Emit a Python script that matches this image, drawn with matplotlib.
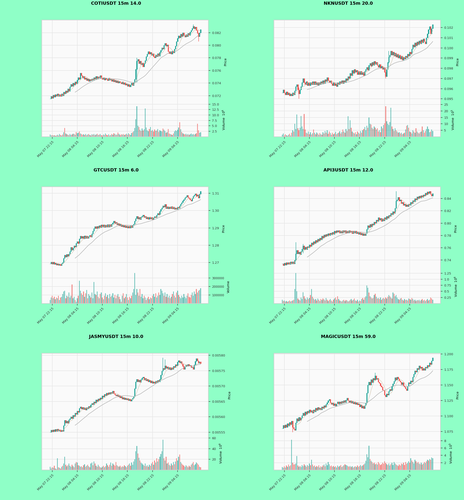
import io
import numpy as np
import pandas as pd
import matplotlib
matplotlib.use('Agg')
import matplotlib.pyplot as plt
from PIL import Image

bg = '#8fffc7'
up_col = '#26a69a'
dn_col = '#ef5350'

date_idx = [2, 26, 50, 74, 98, 122]
date_labels = ['May 07 22:15', 'May 08 04:15', 'May 08 10:15',
               'May 08 16:15', 'May 08 22:15', 'May 09 04:15']

# COTIUSDT
coti_close = [0.0715, 0.0719, 0.0716, 0.0721, 0.0718, 0.0722, 0.0719, 0.0723, 0.0719, 0.0722,
              0.0719, 0.0723, 0.0720, 0.0726, 0.0723, 0.0728, 0.0725, 0.0731, 0.0727, 0.0734,
              0.0738, 0.0735, 0.0740, 0.0737, 0.0742, 0.0739, 0.0745, 0.0749, 0.0746, 0.0756,
              0.0752, 0.0748, 0.0751, 0.0746, 0.0748, 0.0744, 0.0747, 0.0743, 0.0746, 0.0744,
              0.0747, 0.0745, 0.0749, 0.0746, 0.0751, 0.0747, 0.0750, 0.0748, 0.0752, 0.0748,
              0.0746, 0.0749, 0.0745, 0.0748, 0.0746, 0.0744, 0.0748, 0.0745, 0.0747, 0.0743,
              0.0746, 0.0742, 0.0745, 0.0741, 0.0744, 0.0740, 0.0743, 0.0741, 0.0739, 0.0742,
              0.0738, 0.0741, 0.0737, 0.0739, 0.0735, 0.0738, 0.0734, 0.0737, 0.0740, 0.0736,
              0.0741, 0.0746, 0.0762, 0.0775, 0.0778, 0.0771, 0.0775, 0.0769, 0.0772, 0.0766,
              0.0771, 0.0776, 0.0782, 0.0786, 0.0790, 0.0786, 0.0789, 0.0784, 0.0787, 0.0782,
              0.0780, 0.0785, 0.0782, 0.0787, 0.0783, 0.0789, 0.0792, 0.0796, 0.0794, 0.0800,
              0.0803, 0.0799, 0.0801, 0.0790, 0.0787, 0.0790, 0.0786, 0.0791, 0.0788, 0.0794,
              0.0799, 0.0806, 0.0811, 0.0815, 0.0812, 0.0818, 0.0814, 0.0820, 0.0816, 0.0813,
              0.0817, 0.0814, 0.0819, 0.0816, 0.0821, 0.0824, 0.0827, 0.0830, 0.0826, 0.0829,
              0.0824, 0.0819, 0.0814, 0.0820, 0.0825]
coti_vol = [1.0, 0.6, 0.8, 0.5, 0.7, 0.4, 0.6, 0.9, 0.5, 1.2,
            0.8, 0.6, 1.0, 2.0, 4.0, 1.5, 1.1, 0.9, 0.7, 1.3,
            0.8, 1.0, 1.4, 1.2, 0.9, 2.2, 1.6, 1.8, 2.4, 1.5,
            1.2, 0.9, 1.1, 0.8, 1.3, 0.7, 1.0, 1.2, 0.8, 0.6,
            1.1, 0.9, 1.3, 0.7, 1.0, 1.4, 0.8, 0.9, 1.2, 0.7,
            0.6, 1.0, 0.8, 1.5, 0.9, 0.7, 1.1, 0.6, 0.8, 1.3,
            0.9, 1.6, 1.2, 0.8, 1.0, 1.9, 1.3, 0.7, 1.1, 0.9,
            1.2, 0.8, 1.0, 1.4, 0.9, 1.6, 1.1, 0.8, 1.7, 2.0,
            2.5, 4.0, 8.0, 14.0, 5.0, 4.5, 3.2, 2.6, 3.8, 2.9,
            3.4, 13.0, 4.2, 3.0, 2.5, 3.6, 4.5, 2.8, 3.1, 2.4,
            3.3, 2.7, 2.9, 3.5, 2.2, 3.0, 2.6, 2.4, 3.8, 3.2,
            2.6, 1.8, 2.0, 3.5, 1.5, 1.2, 1.0, 0.8, 1.5, 2.4,
            3.0, 2.6, 3.2, 4.2, 6.7, 3.4, 2.2, 1.6, 1.2, 1.0,
            1.4, 0.9, 1.2, 0.8, 1.1, 1.5, 1.0, 1.3, 0.9, 1.2,
            1.6, 6.0, 3.0, 1.8, 2.0]
coti_wicks = {83: (0.0780, 0.0741), 137: (0.0833, 0.0826), 142: (0.0820, 0.0806)}
coti_pticks = [0.072, 0.074, 0.076, 0.078, 0.080, 0.082]
coti_vticks = [2.5, 5.0, 7.5, 10.0, 12.5, 15.0]

# NKNUSDT
nkn_close = [0.0956, 0.0959, 0.0956, 0.0954, 0.0957, 0.0954, 0.0956, 0.0953, 0.0955, 0.0953,
             0.0956, 0.0954, 0.0958, 0.0962, 0.0964, 0.0959, 0.0955, 0.0959, 0.0962, 0.0966,
             0.0970, 0.0966, 0.0964, 0.0967, 0.0963, 0.0966, 0.0963, 0.0966, 0.0964, 0.0967,
             0.0964, 0.0967, 0.0964, 0.0966, 0.0963, 0.0966, 0.0964, 0.0967, 0.0965, 0.0968,
             0.0965, 0.0969, 0.0967, 0.0971, 0.0968, 0.0966, 0.0968, 0.0965, 0.0963, 0.0966,
             0.0963, 0.0965, 0.0962, 0.0966, 0.0964, 0.0967, 0.0965, 0.0968, 0.0965, 0.0968,
             0.0966, 0.0970, 0.0968, 0.0972, 0.0970, 0.0975, 0.0973, 0.0978, 0.0975, 0.0979,
             0.0976, 0.0978, 0.0974, 0.0977, 0.0974, 0.0977, 0.0974, 0.0976, 0.0973, 0.0977,
             0.0979, 0.0981, 0.0978, 0.0983, 0.0985, 0.0982, 0.0986, 0.0983, 0.0987, 0.0984,
             0.0986, 0.0983, 0.0981, 0.0984, 0.0980, 0.0982, 0.0979, 0.0981, 0.0976, 0.0972,
             0.0979, 0.0986, 0.0991, 0.0993, 0.0997, 0.0993, 0.0996, 0.0992, 0.0995, 0.0991,
             0.0994, 0.0990, 0.0993, 0.0989, 0.0992, 0.0988, 0.0991, 0.0989, 0.0992, 0.0990,
             0.0994, 0.0992, 0.0996, 0.0994, 0.0999, 0.1003, 0.1001, 0.1005, 0.1002, 0.1006,
             0.1003, 0.1007, 0.1004, 0.1008, 0.1005, 0.1009, 0.1006, 0.1004, 0.1010, 0.1014,
             0.1018, 0.1021, 0.1014, 0.1019, 0.1023]
nkn_vol = [1.5, 2.5, 1.0, 2.0, 1.2, 0.8, 1.5, 2.2, 1.0, 3.0,
           5.0, 4.0, 10.0, 6.0, 17.2, 6.5, 5.0, 7.0, 16.0, 8.0,
           6.0, 17.7, 5.5, 3.0, 2.5, 4.0, 2.0, 3.5, 1.8, 2.6,
           5.5, 3.0, 2.0, 3.2, 2.4, 1.6, 2.8, 2.0, 1.5, 3.5,
           2.5, 4.5, 3.0, 5.0, 2.2, 4.0, 2.8, 1.6, 3.0, 2.0,
           2.5, 3.8, 2.0, 2.7, 3.0, 4.2, 2.5, 3.6, 5.5, 4.0,
           3.0, 6.0, 4.5, 15.9, 6.0, 12.8, 7.0, 4.0, 3.0, 2.5,
           3.5, 2.0, 4.0, 3.0, 2.2, 4.5, 3.0, 5.0, 6.0, 7.5,
           5.0, 8.5, 7.0, 15.0, 10.0, 9.5, 7.0, 6.0, 8.0, 7.0,
           5.5, 6.5, 4.0, 5.0, 3.5, 8.0, 6.5, 9.0, 10.5, 23.6,
           12.0, 10.0, 9.0, 11.5, 22.5, 8.0, 6.0, 4.5, 6.5, 5.0,
           4.0, 3.0, 3.5, 2.5, 3.0, 2.0, 2.5, 3.0, 5.5, 8.5,
           9.0, 7.0, 4.0, 3.5, 2.5, 5.0, 4.0, 3.0, 6.5, 4.0,
           3.0, 2.5, 3.5, 4.0, 8.0, 5.0, 3.0, 4.5, 6.0, 8.0,
           6.0, 3.5, 4.0, 5.5, 4.5]
nkn_wicks = {16: (0.0961, 0.0950), 99: (0.0980, 0.0970), 102: (0.0997, 0.0985)}
nkn_pticks = [0.095, 0.096, 0.097, 0.098, 0.099, 0.100, 0.101, 0.102]
nkn_vticks = [5, 10, 15, 20, 25]

# GTCUSDT
gtc_close = [1.2694, 1.2704, 1.2692, 1.2703, 1.2690, 1.2698, 1.2686, 1.2695, 1.2684, 1.2692,
             1.2683, 1.2695, 1.2700, 1.2725, 1.2744, 1.2732, 1.2748, 1.2736, 1.2750, 1.2764,
             1.2788, 1.2773, 1.2784, 1.2797, 1.2790, 1.2812, 1.2822, 1.2810, 1.2838, 1.2854,
             1.2840, 1.2852, 1.2838, 1.2855, 1.2841, 1.2853, 1.2840, 1.2850, 1.2858, 1.2848,
             1.2866, 1.2882, 1.2897, 1.2908, 1.2896, 1.2910, 1.2898, 1.2914, 1.2902, 1.2918,
             1.2905, 1.2918, 1.2904, 1.2917, 1.2905, 1.2919, 1.2906, 1.2920, 1.2908, 1.2922,
             1.2930, 1.2940, 1.2926, 1.2932, 1.2918, 1.2925, 1.2912, 1.2922, 1.2908, 1.2918,
             1.2905, 1.2916, 1.2902, 1.2912, 1.2900, 1.2911, 1.2899, 1.2912, 1.2903, 1.2916,
             1.2922, 1.2940, 1.2955, 1.2968, 1.2952, 1.2962, 1.2948, 1.2963, 1.2968, 1.2975,
             1.2960, 1.2968, 1.2953, 1.2962, 1.2950, 1.2963, 1.2951, 1.2961, 1.2948, 1.2958,
             1.2966, 1.2958, 1.2974, 1.2984, 1.2976, 1.2996, 1.3008, 1.3016, 1.3028, 1.3020,
             1.3036, 1.3012, 1.3024, 1.3010, 1.3022, 1.3012, 1.3023, 1.3010, 1.3020, 1.3008,
             1.3016, 1.3008, 1.3020, 1.3014, 1.3028, 1.3038, 1.3046, 1.3056, 1.3064, 1.3074,
             1.3080, 1.3088, 1.3076, 1.3070, 1.3062, 1.3055, 1.3070, 1.3082, 1.3090, 1.3097,
             1.3082, 1.3092, 1.3072, 1.3096, 1.3112]
gtc_vol = [40000, 70000, 90000, 60000, 80000, 50000, 70000, 60000, 90000, 40000,
           70000, 80000, 110000, 140000, 150000, 60000, 90000, 80000, 130000, 70000,
           90000, 225000, 60000, 80000, 40000, 20000, 60000, 90000, 270000, 150000,
           120000, 100000, 140000, 80000, 120000, 160000, 60000, 110000, 90000, 70000,
           130000, 60000, 255000, 110000, 100000, 140000, 80000, 60000, 110000, 130000,
           70000, 50000, 90000, 120000, 80000, 100000, 60000, 110000, 80000, 90000,
           120000, 70000, 100000, 60000, 90000, 110000, 80000, 50000, 20000, 90000,
           120000, 60000, 80000, 110000, 70000, 40000, 80000, 60000, 90000, 130000,
           170000, 360000, 100000, 170000, 130000, 90000, 170000, 80000, 110000, 60000,
           90000, 70000, 40000, 60000, 80000, 50000, 70000, 60000, 90000, 110000,
           80000, 120000, 70000, 90000, 130000, 100000, 170000, 150000, 120000, 90000,
           130000, 80000, 110000, 70000, 90000, 60000, 80000, 110000, 140000, 90000,
           70000, 130000, 150000, 100000, 80000, 60000, 90000, 70000, 110000, 80000,
           60000, 90000, 120000, 80000, 70000, 100000, 130000, 90000, 140000, 110000,
           170000, 130000, 150000, 160000, 180000]
gtc_wicks = {}
gtc_pticks = [1.27, 1.28, 1.29, 1.30, 1.31]
gtc_vticks = [100000, 200000, 300000]

# API3USDT
api_close = [0.734, 0.731, 0.735, 0.732, 0.736, 0.733, 0.736, 0.733, 0.737, 0.734,
             0.737, 0.734, 0.740, 0.750, 0.756, 0.750, 0.753, 0.749, 0.754, 0.758,
             0.763, 0.757, 0.761, 0.757, 0.762, 0.760, 0.765, 0.762, 0.768, 0.765,
             0.770, 0.767, 0.772, 0.769, 0.774, 0.771, 0.776, 0.773, 0.779, 0.776,
             0.781, 0.778, 0.782, 0.779, 0.783, 0.780, 0.784, 0.781, 0.785, 0.782,
             0.787, 0.784, 0.788, 0.785, 0.788, 0.784, 0.787, 0.784, 0.788, 0.785,
             0.788, 0.784, 0.787, 0.784, 0.788, 0.785, 0.787, 0.783, 0.787, 0.784,
             0.787, 0.783, 0.786, 0.782, 0.785, 0.781, 0.784, 0.780, 0.783, 0.780,
             0.783, 0.790, 0.796, 0.793, 0.798, 0.794, 0.799, 0.797, 0.802, 0.800,
             0.805, 0.803, 0.809, 0.805, 0.808, 0.803, 0.807, 0.804, 0.809, 0.806,
             0.811, 0.808, 0.813, 0.811, 0.816, 0.814, 0.819, 0.816, 0.824, 0.836,
             0.838, 0.842, 0.836, 0.838, 0.832, 0.834, 0.829, 0.831, 0.827, 0.830,
             0.827, 0.831, 0.829, 0.834, 0.832, 0.837, 0.835, 0.840, 0.838, 0.843,
             0.840, 0.844, 0.841, 0.845, 0.842, 0.846, 0.844, 0.849, 0.846, 0.851,
             0.848, 0.852, 0.847, 0.844, 0.848]
api_vol = [0.15, 0.10, 0.12, 0.08, 0.10, 0.07, 0.09, 0.12, 0.08, 0.10,
           0.12, 0.15, 0.60, 1.26, 0.50, 0.20, 0.15, 0.12, 0.25, 0.18,
           0.46, 0.30, 0.20, 0.15, 0.25, 0.18, 0.22, 0.35, 0.60, 0.28,
           0.20, 0.15, 0.18, 0.12, 0.20, 0.15, 0.10, 0.18, 0.14, 0.20,
           0.16, 0.12, 0.22, 0.15, 0.10, 0.14, 0.18, 0.12, 0.08, 0.15,
           0.20, 0.25, 0.15, 0.30, 0.18, 0.12, 0.10, 0.08, 0.12, 0.15,
           0.10, 0.14, 0.12, 0.08, 0.10, 0.14, 0.18, 0.12, 0.15, 0.20,
           0.12, 0.10, 0.15, 0.08, 0.12, 0.10, 0.18, 0.22, 0.15, 0.25,
           0.30, 0.74, 0.65, 0.45, 0.30, 0.25, 0.20, 0.22, 0.35, 0.40,
           0.28, 0.20, 0.22, 0.18, 0.25, 0.15, 0.20, 0.22, 0.18, 0.25,
           0.20, 0.28, 0.35, 0.30, 0.25, 0.20, 0.45, 0.40, 0.30, 0.35,
           0.25, 0.18, 0.15, 0.20, 0.22, 0.15, 0.12, 0.18, 0.14, 0.15,
           0.12, 0.20, 0.18, 0.15, 0.22, 0.18, 0.12, 0.15, 0.10, 0.14,
           0.12, 0.15, 0.10, 0.14, 0.18, 0.12, 0.15, 0.10, 0.14, 0.18,
           0.12, 0.15, 0.25, 0.20, 0.15]
api_wicks = {13: (0.769, 0.739), 20: (0.766, 0.751), 109: (0.852, 0.824)}
api_pticks = [0.74, 0.76, 0.78, 0.80, 0.82, 0.84]
api_vticks = [0.25, 0.50, 0.75, 1.00, 1.25]

# JASMYUSDT
jasmy_close = [0.005550, 0.005557, 0.005551, 0.005558, 0.005552, 0.005559, 0.005553, 0.005560, 0.005554, 0.005558,
               0.005552, 0.005557, 0.005553, 0.005572, 0.005589, 0.005580, 0.005586, 0.005579, 0.005590, 0.005594,
               0.005600, 0.005594, 0.005605, 0.005601, 0.005612, 0.005608, 0.005619, 0.005615, 0.005628, 0.005633,
               0.005625, 0.005631, 0.005624, 0.005629, 0.005622, 0.005630, 0.005626, 0.005634, 0.005630, 0.005639,
               0.005644, 0.005640, 0.005649, 0.005645, 0.005655, 0.005650, 0.005659, 0.005654, 0.005662, 0.005658,
               0.005668, 0.005664, 0.005673, 0.005669, 0.005677, 0.005672, 0.005679, 0.005673, 0.005680, 0.005676,
               0.005684, 0.005676, 0.005672, 0.005668, 0.005672, 0.005665, 0.005669, 0.005662, 0.005666, 0.005658,
               0.005663, 0.005656, 0.005661, 0.005655, 0.005660, 0.005653, 0.005658, 0.005651, 0.005656, 0.005661,
               0.005666, 0.005692, 0.005714, 0.005722, 0.005714, 0.005720, 0.005712, 0.005721, 0.005726, 0.005729,
               0.005720, 0.005725, 0.005717, 0.005722, 0.005714, 0.005719, 0.005711, 0.005717, 0.005709, 0.005714,
               0.005709, 0.005716, 0.005711, 0.005719, 0.005714, 0.005722, 0.005736, 0.005749, 0.005758, 0.005754,
               0.005766, 0.005758, 0.005763, 0.005755, 0.005761, 0.005753, 0.005760, 0.005755, 0.005764, 0.005760,
               0.005770, 0.005766, 0.005778, 0.005783, 0.005776, 0.005780, 0.005772, 0.005764, 0.005755, 0.005763,
               0.005769, 0.005764, 0.005771, 0.005765, 0.005768, 0.005760, 0.005762, 0.005755, 0.005769, 0.005781,
               0.005790, 0.005782, 0.005774, 0.005779, 0.005773]
jasmy_vol = [6, 3, 5, 4, 8, 3, 2, 22, 5, 4,
             3, 6, 8, 12, 25, 10, 7, 9, 12, 8,
             6, 10, 7, 5, 12, 15, 14, 9, 8, 6,
             7, 5, 9, 11, 6, 8, 10, 7, 5, 12,
             14, 9, 16, 12, 8, 6, 10, 7, 5, 4,
             6, 8, 5, 7, 12, 9, 6, 10, 14, 8,
             12, 10, 8, 15, 9, 7, 6, 8, 5, 7,
             6, 9, 7, 5, 8, 10, 12, 8, 14, 10,
             16, 20, 35, 45, 31, 23, 18, 14, 12, 10,
             8, 12, 7, 9, 6, 10, 8, 12, 15, 10,
             18, 14, 22, 16, 20, 25, 30, 35, 57, 22,
             18, 25, 12, 14, 10, 8, 12, 9, 15, 11,
             16, 22, 18, 25, 29, 15, 12, 10, 8, 6,
             9, 7, 5, 8, 6, 10, 12, 15, 9, 11,
             14, 12, 10, 6, 5]
jasmy_wicks = {108: (0.005792, 0.005748), 110: (0.005786, 0.005756)}
jasmy_pticks = [0.00555, 0.00560, 0.00565, 0.00570, 0.00575, 0.00580]
jasmy_vticks = [20, 40, 60]

# MAGICUSDT
magic_close = [1.080, 1.085, 1.081, 1.086, 1.082, 1.088, 1.084, 1.090, 1.086, 1.092,
               1.082, 1.079, 1.077, 1.089, 1.096, 1.092, 1.098, 1.093, 1.097, 1.101,
               1.105, 1.101, 1.107, 1.103, 1.108, 1.105, 1.110, 1.106, 1.109, 1.105,
               1.110, 1.107, 1.113, 1.109, 1.114, 1.110, 1.113, 1.110, 1.115, 1.112,
               1.117, 1.114, 1.119, 1.122, 1.125, 1.127, 1.122, 1.119, 1.121, 1.117,
               1.120, 1.116, 1.120, 1.123, 1.119, 1.123, 1.120, 1.124, 1.121, 1.125,
               1.122, 1.126, 1.129, 1.125, 1.122, 1.125, 1.121, 1.124, 1.120, 1.123,
               1.119, 1.122, 1.118, 1.120, 1.115, 1.118, 1.113, 1.116, 1.112, 1.117,
               1.121, 1.137, 1.150, 1.155, 1.150, 1.159, 1.154, 1.161, 1.158, 1.165,
               1.159, 1.161, 1.155, 1.153, 1.149, 1.147, 1.142, 1.141, 1.134, 1.131,
               1.136, 1.134, 1.140, 1.143, 1.141, 1.148, 1.152, 1.156, 1.162, 1.158,
               1.163, 1.160, 1.157, 1.155, 1.151, 1.154, 1.149, 1.147, 1.144, 1.141,
               1.148, 1.154, 1.152, 1.157, 1.155, 1.163, 1.168, 1.173, 1.171, 1.177,
               1.175, 1.181, 1.177, 1.179, 1.174, 1.177, 1.174, 1.179, 1.177, 1.182,
               1.180, 1.186, 1.183, 1.189, 1.194]
magic_vol = [0.8, 0.6, 1.0, 0.7, 1.2, 0.9, 1.5, 1.0, 1.3, 8.3,
             2.0, 1.5, 1.6, 1.8, 3.8, 1.2, 0.9, 1.1, 0.8, 1.4,
             1.0, 1.6, 1.2, 0.9, 1.4, 1.1, 1.8, 1.3, 2.8, 1.5,
             1.0, 1.2, 0.8, 1.1, 0.9, 1.3, 0.7, 1.0, 0.8, 1.2,
             1.5, 1.0, 1.8, 1.3, 2.2, 1.6, 1.0, 1.2, 0.9, 1.1,
             0.8, 1.0, 0.7, 1.2, 0.9, 1.1, 1.4, 0.8, 1.0, 1.3,
             1.6, 1.4, 1.2, 1.0, 0.9, 1.1, 0.8, 1.0, 0.7, 0.9,
             1.0, 0.8, 1.2, 0.9, 1.1, 1.4, 1.0, 1.2, 1.5, 1.8,
             2.5, 4.3, 3.5, 6.6, 3.0, 2.5, 2.2, 1.8, 2.0, 1.6,
             1.8, 1.5, 2.2, 1.8, 1.4, 1.6, 2.0, 1.7, 2.4, 1.9,
             1.6, 1.4, 1.8, 1.2, 1.6, 2.0, 1.4, 2.2, 1.8, 1.5,
             1.3, 1.1, 1.5, 1.2, 1.8, 1.6, 2.0, 1.4, 2.2, 1.7,
             1.9, 2.4, 2.0, 3.2, 2.6, 2.2, 1.8, 2.8, 2.4, 1.9,
             2.2, 1.8, 1.6, 2.0, 1.5, 1.8, 2.2, 1.9, 2.4, 2.8,
             2.6, 3.0, 2.8, 3.4, 3.2]
magic_wicks = {10: (1.092, 1.074), 89: (1.170, 1.158)}
magic_pticks = [1.075, 1.100, 1.125, 1.150, 1.175, 1.200]
magic_vticks = [2, 4, 6, 8]

W, H = 464, 500
fig = plt.figure(figsize=(W / 100, H / 100), dpi=100, facecolor=bg)


def draw_chart(left, top, title, close, vol, wicks, pticks, pfmt, vticks, vlabel):
    close = np.array(close, dtype=float)
    opn = np.r_[close[0], close[:-1]]
    hi = np.maximum(opn, close)
    lo = np.minimum(opn, close)
    for i, (h, l) in wicks.items():
        hi[i] = max(hi[i], h)
        lo[i] = min(lo[i], l)
    x = np.arange(len(close))
    cols = np.where(close >= opn, up_col, dn_col)

    ph, vh, aw = 83.3, 33.4, 166.6
    ax = fig.add_axes([left / W, 1 - (top + ph) / H, aw / W, ph / H])
    axv = fig.add_axes([left / W, 1 - (top + ph + vh) / H, aw / W, vh / H], sharex=ax)

    ma_short = pd.Series(close).rolling(7).mean()
    ma_long = pd.Series(close).rolling(25).mean()
    ax.plot(x, ma_short, color='#e0d2bf', lw=0.35)
    ax.plot(x, ma_long, color='#bcbcbc', lw=0.4)
    ax.vlines(x, lo, hi, colors=cols, lw=0.3)
    ax.bar(x, close - opn, bottom=opn, width=0.8, color=cols, edgecolor=cols, linewidth=0.2)

    pad = 0.06 * (hi.max() - lo.min())
    ax.set_ylim(lo.min() - pad, hi.max() + pad)
    ax.set_xlim(-8, len(close) + 6.5)

    vol = np.array(vol, dtype=float)
    xv = np.arange(len(vol))
    axv.bar(xv, vol, width=0.8, color=cols[:len(vol)], alpha=0.65, linewidth=0)
    axv.set_ylim(0, vol.max() * 1.1)

    for a in (ax, axv):
        a.set_facecolor('#fafafa')
        a.yaxis.tick_right()
        a.yaxis.set_label_position('right')
        a.grid(True, color='#e6e6e6', lw=0.35)
        a.set_axisbelow(True)
        a.tick_params(labelsize=2.3, length=1.5, width=0.3, pad=1, colors='#333333')
        for s in a.spines.values():
            s.set_color('#cfcfcf')
            s.set_linewidth(0.4)
    ax.spines['bottom'].set_visible(False)
    axv.spines['top'].set_visible(False)

    ax.set_yticks(pticks)
    ax.set_yticklabels([pfmt.format(t) for t in pticks])
    axv.set_yticks(vticks)
    axv.set_yticklabels([str(t) for t in vticks])
    ax.set_ylabel('Price', fontsize=2.4, labelpad=2)
    axv.set_ylabel(vlabel, fontsize=2.4, labelpad=2)

    axv.set_xticks(date_idx)
    axv.set_xticklabels(date_labels, rotation=45, ha='right', rotation_mode='anchor')
    plt.setp(ax.get_xticklabels(), visible=False)
    ax.tick_params(axis='x', length=0)

    cell_mid = 116 if left < W / 2 else 348
    fig.text(cell_mid / W, 1 - (top - 16.5) / H, title, ha='center', va='center',
             fontsize=3.2, fontweight='bold')


lefts = [41.7, 273.7]
tops = [20, 186.7, 353.3]

draw_chart(lefts[0], tops[0], 'COTIUSDT 15m 14.0', coti_close, coti_vol, coti_wicks,
           coti_pticks, '{:.3f}', coti_vticks, 'Volume  $10^{6}$')
draw_chart(lefts[1], tops[0], 'NKNUSDT 15m 20.0', nkn_close, nkn_vol, nkn_wicks,
           nkn_pticks, '{:.3f}', nkn_vticks, 'Volume  $10^{5}$')
draw_chart(lefts[0], tops[1], 'GTCUSDT 15m 6.0', gtc_close, gtc_vol, gtc_wicks,
           gtc_pticks, '{:.2f}', gtc_vticks, 'Volume')
draw_chart(lefts[1], tops[1], 'API3USDT 15m 12.0', api_close, api_vol, api_wicks,
           api_pticks, '{:.2f}', api_vticks, 'Volume  $10^{6}$')
draw_chart(lefts[0], tops[2], 'JASMYUSDT 15m 10.0', jasmy_close, jasmy_vol, jasmy_wicks,
           jasmy_pticks, '{:.5f}', jasmy_vticks, 'Volume  $10^{6}$')
draw_chart(lefts[1], tops[2], 'MAGICUSDT 15m 59.0', magic_close, magic_vol, magic_wicks,
           magic_pticks, '{:.3f}', magic_vticks, 'Volume  $10^{5}$')

# render large and scale down, so the 1px candles blend instead of aliasing
buf = io.BytesIO()
fig.savefig(buf, dpi=400, facecolor=bg, format='png')
buf.seek(0)
img = Image.open(buf).convert('RGB').resize((W, H), Image.LANCZOS)
img.save('out.png')
